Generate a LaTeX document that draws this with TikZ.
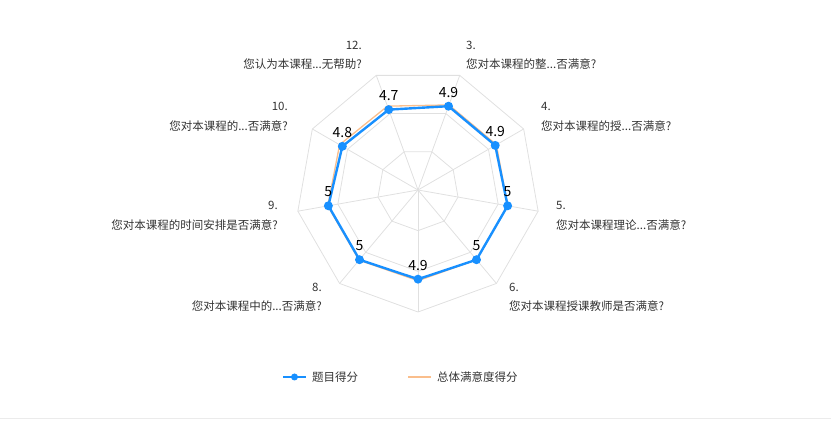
\documentclass[tikz,border=0pt]{standalone}
\usepackage{fontspec}
\setmainfont{Noto Sans CJK SC}
\usetikzlibrary{calc}
\definecolor{sblue}{RGB}{24,144,255}
\definecolor{sor}{RGB}{250,190,140}
\begin{document}
\begin{tikzpicture}[x=1pt,y=1pt,
  lbl/.style={font=\fontsize{11.5}{13}\selectfont,text=black!80,inner sep=0pt},
  val/.style={font=\fontsize{14}{16}\selectfont,text=black,inner sep=0pt},
  grid/.style={draw=black!12,line width=0.8pt},
  blueser/.style={draw=sblue,line width=2.4pt,line join=round},
  orser/.style={draw=sor,line width=1.3pt,line join=round},
  dot/.style={circle,fill=sblue,inner sep=0pt,minimum size=9pt}]
\useasboundingbox (0,0) rectangle (831,-427);
\draw[black!8,line width=1pt] (0,-419) -- (831,-419);
\coordinate (C) at (418,-190);
\def\R{122}
\foreach \f in {0.333,0.667,1}{
  \draw[grid] ($(C)+(110:\f*\R)$) \foreach \a in {150,190,230,270,310,350,30,70}{-- ($(C)+(\a:\f*\R)$)} -- cycle;}
\foreach \a in {110,150,190,230,270,310,350,30,70}{\draw[grid] (C) -- ($(C)+(\a:\R)$);}
% orange series
\draw[orser] ($(C)+(70:18.4*4.92)$) -- ($(C)+(30:18.4*4.92)$) -- ($(C)+(-10:18.4*4.95)$) -- ($(C)+(-50:18.4*4.95)$) -- ($(C)+(-90:18.4*4.93)$) -- ($(C)+(-130:18.4*4.98)$) -- ($(C)+(-170:18.4*4.98)$) -- ($(C)+(150:18.4*4.92)$) -- ($(C)+(110:18.4*4.85)$) -- cycle;
% blue series
\foreach \n/\a/\v in {p3/70/4.9,p4/30/4.9,p5/-10/5,p6/-50/5,p7/-90/4.9,p8/-130/5,p9/-170/5,p10/150/4.8,p12/110/4.7}{
  \coordinate (\n) at ($(C)+(\a:18.2*\v)$);}
\draw[blueser] (p3)--(p4)--(p5)--(p6)--(p7)--(p8)--(p9)--(p10)--(p12)--cycle;
\foreach \n/\v in {p3/4.9,p4/4.9,p5/5,p6/5,p7/4.9,p8/5,p9/5,p10/4.8,p12/4.7}{
  \node[dot] at (\n) {};
  \node[val] at ($(\n)+(0,14)$) {\v};}
% axis labels
\node[lbl,anchor=east] (t12a) at (362,-45) {12.};
\node[lbl,anchor=east] (t12b) at (362,-64) {您认为本课程...无帮助?};
\node[lbl,anchor=west] (t3a) at (466,-45) {3.};
\node[lbl,anchor=west] (t3b) at (466,-64) {您对本课程的整...否满意?};
\node[lbl,anchor=west] (t4a) at (541,-106) {4.};
\node[lbl,anchor=west] (t4b) at (541,-126) {您对本课程的授...否满意?};
\node[lbl,anchor=west] (t5a) at (556,-205) {5.};
\node[lbl,anchor=west] (t5b) at (556,-225) {您对本课程理论...否满意?};
\node[lbl,anchor=west] (t6a) at (509,-287) {6.};
\node[lbl,anchor=west] (t6b) at (509,-306) {您对本课程授课教师是否满意?};
\node[lbl,anchor=east] (t8a) at (322,-287) {8.};
\node[lbl,anchor=east] (t8b) at (322,-306) {您对本课程中的...否满意?};
\node[lbl,anchor=east] (t9a) at (278,-205) {9.};
\node[lbl,anchor=east] (t9b) at (278,-225) {您对本课程的时间安排是否满意?};
\node[lbl,anchor=east] (t10a) at (288,-106) {10.};
\node[lbl,anchor=east] (t10b) at (288,-126) {您对本课程的...否满意?};
% legend
\coordinate (l1a) at (283,-377); \coordinate (l1b) at (306,-377);
\draw[blueser,line width=2pt] (l1a) -- (l1b);
\node[dot,minimum size=7pt] (l1d) at (294.5,-377) {};
\node[lbl,anchor=west] (l1t) at (312,-377) {题目得分};
\coordinate (l2a) at (408,-377); \coordinate (l2b) at (431,-377);
\draw[orser] (l2a) -- (l2b);
\node[lbl,anchor=west] (l2t) at (437,-377) {总体满意度得分};
\end{tikzpicture}
\end{document}
